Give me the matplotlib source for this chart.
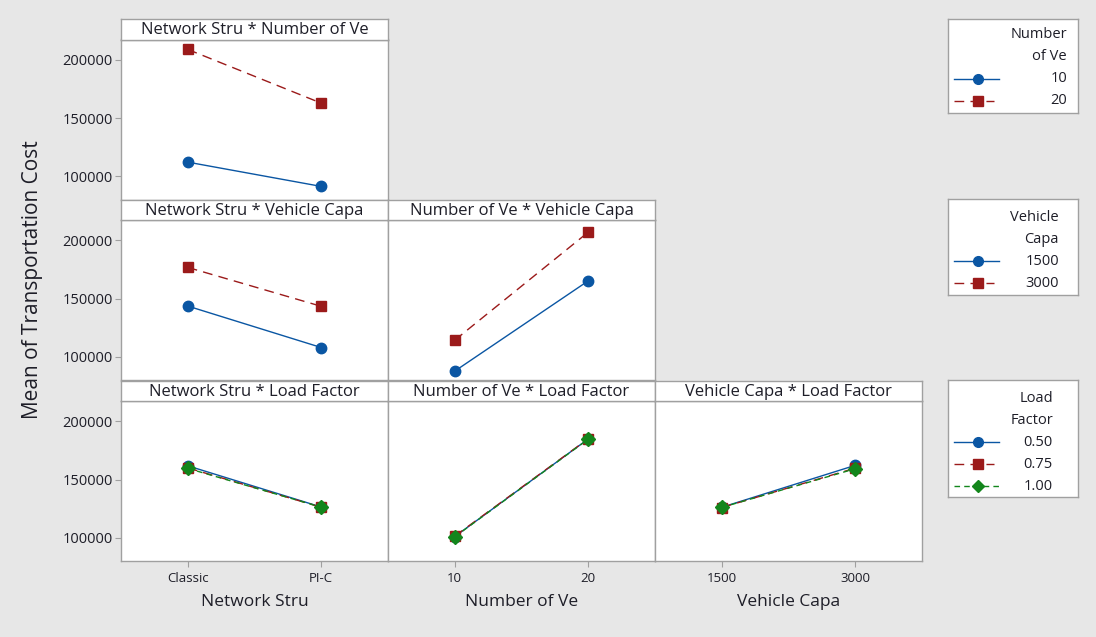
import matplotlib
matplotlib.use("Agg")
import matplotlib.pyplot as plt

plt.rcParams["font.family"] = ["Open Sans", "DejaVu Sans"]

# ---- data ----
network_levels = ["Classic", "PI-C"]
vehicle_levels = ["10", "20"]
capa_levels = ["1500", "3000"]
load_levels = ["0.50", "0.75", "1.00"]

# Network Stru * Number of Ve
ns_nv = {"10": [112300, 91500], "20": [208800, 162800]}
# Network Stru * Vehicle Capa
ns_vc = {"1500": [143600, 108100], "3000": [176700, 143400]}
# Number of Ve * Vehicle Capa
nv_vc = {"1500": [87900, 165200], "3000": [114400, 206900]}
# Network Stru * Load Factor
ns_lf = {"0.50": [161800, 126500], "0.75": [160000, 126300], "1.00": [159600, 126400]}
# Number of Ve * Load Factor
nv_lf = {"0.50": [101200, 184800], "0.75": [101600, 185000], "1.00": [101000, 184600]}
# Vehicle Capa * Load Factor
vc_lf = {"0.50": [126300, 162200], "0.75": [126100, 159800], "1.00": [126200, 159300]}

yticks = [100000, 150000, 200000]

# ---- styles ----
BG = "#e7e7e7"
EDGE = "#a0a0a0"
TXT = "#1e1e28"
BLUE = "#0a56a3"
RED = "#9b1a1a"
GREEN = "#13861c"
styles = [
    dict(color=BLUE, ls="-", marker="o", ms=7.5, lw=1.0),
    dict(color=RED, ls=(0, (7, 4.5)), marker="s", ms=7.5, lw=1.0),
    dict(color=GREEN, ls=(0, (4, 3)), marker="D", ms=7.0, lw=1.0),
]

W, H = 1096, 637
fig = plt.figure(figsize=(W / 100, H / 100), dpi=100, facecolor=BG)


def rect(x0, y0, x1, y1):
    return [x0 / W, 1 - y1 / H, (x1 - x0) / W, (y1 - y0) / H]


col_x = [121, 388, 655, 922]
row_y = [(19, 39.5, 199.5), (199.5, 220, 380), (380.5, 401, 561)]

panels = [
    (0, 0, "Network Stru * Number of Ve", network_levels, ns_nv),
    (1, 0, "Network Stru * Vehicle Capa", network_levels, ns_vc),
    (1, 1, "Number of Ve * Vehicle Capa", vehicle_levels, nv_vc),
    (2, 0, "Network Stru * Load Factor", network_levels, ns_lf),
    (2, 1, "Number of Ve * Load Factor", vehicle_levels, nv_lf),
    (2, 2, "Vehicle Capa * Load Factor", capa_levels, vc_lf),
]

for r, c, title, xlev, traces in panels:
    top, mid, bot = row_y[r]
    x0, x1 = col_x[c], col_x[c + 1]
    ax = fig.add_axes(rect(x0, mid, x1, bot))
    ax.set_facecolor("white")
    for i, (lev, vals) in enumerate(traces.items()):
        st = styles[i]
        ax.plot(range(len(xlev)), vals, color=st["color"], ls=st["ls"], lw=st["lw"],
                marker=st["marker"], ms=st["ms"], mfc=st["color"], mec=st["color"])
    ax.set_xlim(-0.5, 1.5)
    ax.set_ylim(80300, 217300)
    for s in ax.spines.values():
        s.set_color(EDGE)
        s.set_linewidth(1.0)
    ax.tick_params(colors=EDGE, labelcolor=TXT, length=4, width=0.8)
    ax.tick_params(axis="y", pad=2, labelsize=10.5)
    ax.tick_params(axis="x", pad=4, labelsize=9.5)
    ax.set_xticks(range(len(xlev)))
    ax.set_yticks(yticks)
    if r == 2:
        ax.set_xticklabels(xlev)
    else:
        ax.tick_params(axis="x", length=0, labelbottom=False)
    if c == 0:
        ax.set_yticklabels([str(v) for v in yticks])
    else:
        ax.tick_params(axis="y", length=0, labelleft=False)

    sx = fig.add_axes(rect(x0, top, x1, mid))
    sx.set_facecolor("white")
    sx.set_xticks([])
    sx.set_yticks([])
    for s in sx.spines.values():
        s.set_color(EDGE)
        s.set_linewidth(1.0)
    sx.text(0.5, 0.45, title, ha="center", va="center", fontsize=12, color=TXT,
            transform=sx.transAxes)

# axis labels
xlabels = ["Network Stru", "Number of Ve", "Vehicle Capa"]
for c, lab in enumerate(xlabels):
    fig.text((col_x[c] + col_x[c + 1]) / 2 / W, 1 - 602 / H, lab, ha="center", va="center",
             fontsize=12.5, color=TXT)
fig.text(33 / W, 1 - 280 / H, "Mean of Transportation Cost", rotation=90, ha="center",
         va="center", fontsize=15, color=TXT)

# legends
legends = [
    ((948, 19, 1078, 113), ["Number", "of Ve"], vehicle_levels, 1067, 35),
    ((948, 199, 1078, 295), ["Vehicle", "Capa"], capa_levels, 1059, 217),
    ((948, 380, 1078, 497), ["Load", "Factor"], load_levels, 1053, 398),
]
for (bx0, by0, bx1, by1), tlines, levels, tx, ty in legends:
    lg = fig.add_axes(rect(bx0, by0, bx1, by1))
    lg.set_facecolor("white")
    lg.set_xlim(bx0, bx1)
    lg.set_ylim(by1, by0)
    lg.set_xticks([])
    lg.set_yticks([])
    for s in lg.spines.values():
        s.set_color(EDGE)
        s.set_linewidth(1.0)
    lines = tlines + levels
    for k, t in enumerate(lines):
        yy = ty + 22 * k
        lg.text(tx, yy, t, ha="right", va="center", fontsize=10.5, color=TXT)
        if k >= len(tlines):
            st = styles[k - len(tlines)]
            xend = 994 if st["marker"] == "s" else 999
            lg.plot([954, xend], [yy, yy], color=st["color"], ls=st["ls"], lw=st["lw"])
            lg.plot([978], [yy], color=st["color"], marker=st["marker"], ms=st["ms"] - 0.5)

fig.savefig("out.png", dpi=100, facecolor=BG)
